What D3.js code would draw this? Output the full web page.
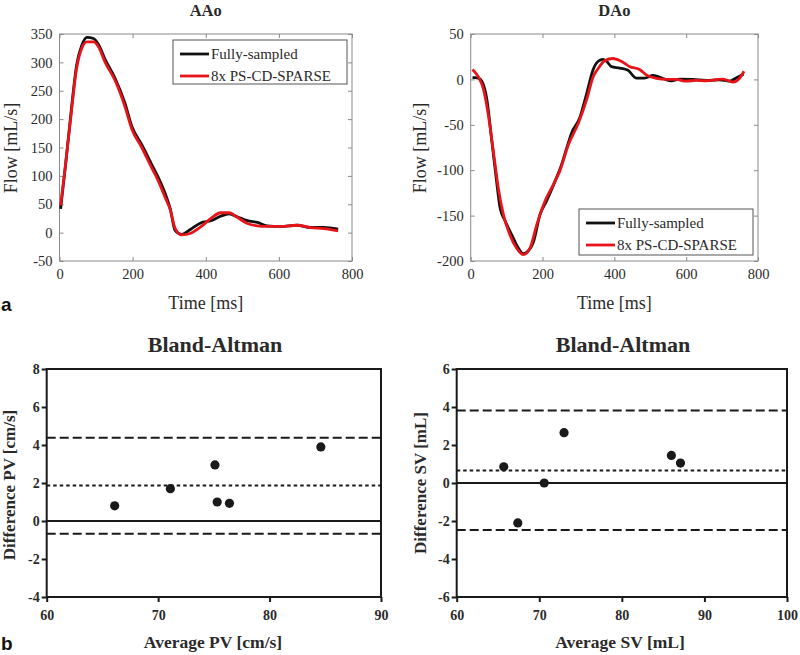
<!DOCTYPE html>
<html><head><meta charset="utf-8">
<script src="https://cdn.jsdelivr.net/npm/d3@7"></script>
<style>
body{margin:0;background:#fff;}
svg{display:block;}
</style></head>
<body>
<svg id="c" width="800" height="655"></svg>
<script>
// ---------- DATA ----------
const aaoTime   = [3, 15, 29, 47, 61, 75, 93, 107, 125, 152, 179, 198, 225, 253, 271, 289, 303, 316, 334, 359, 386, 414, 441, 464, 486, 514, 541, 568, 605, 650, 686, 723, 762];
const aaoFull   = [42, 110, 196, 296, 330, 344, 342, 331, 305, 272, 228, 187, 155, 119, 96, 69, 42, 4, -3, 6, 17, 21, 29, 33, 28, 21, 18, 12, 11, 13, 9, 9, 6];
const aaoSparse = [48, 112, 192, 290, 325, 336, 336, 327, 300, 268, 222, 182, 150, 113, 90, 62, 40, 8, -4, -1, 10, 25, 35, 35, 27, 16, 12, 11, 11, 13, 9, 7, 3];

const daoTimeFull   = [5, 12, 21, 31, 45, 58, 72, 82, 96, 114, 133, 146, 160, 174, 193, 211, 235, 253, 267, 281, 304, 322, 341, 355, 368, 378, 392, 415, 438, 461, 484, 508, 535, 559, 582, 619, 656, 693, 721, 739, 760];
const daoFull       = [2, 2, 1.5, -2, -22, -65, -112, -142, -156, -171, -186, -192, -189, -180, -149, -134, -112, -94, -76, -59, -42, -17, 11, 20, 22, 20, 14, 12.5, 10, 1.5, 1.5, 4.4, 1, -1.5, 0.4, 0, -1, -0.4, -2, 1.5, 6];
const daoTimeSparse = [5, 21, 35, 49, 63, 77, 91, 109, 128, 146, 165, 184, 207, 230, 248, 272, 300, 323, 341, 355, 373, 396, 419, 443, 470, 489, 517, 545, 572, 600, 628, 656, 684, 702, 730, 749, 761];
const daoSparse     = [11, 3, -10, -39, -79, -120, -149, -171, -186, -193, -186, -160, -134, -116, -101, -72, -48, -22, 3, 12, 20.5, 23, 20, 14, 11, 5, 1, 0, 0, -2, -1, -1.5, -0.4, 0.4, -3, 1.5, 9];

const seriesNames = ["Fully-sampled", "8x PS-CD-SPARSE"];

const timeTicks = [0, 200, 400, 600, 800];
const aaoTicks  = [-50, 0, 50, 100, 150, 200, 250, 300, 350];
const daoTicks  = [-200, -150, -100, -50, 0, 50];

const pvAvg  = [66.1, 71.1, 75.1, 75.3, 76.4, 84.6];
const pvDiff = [0.8, 1.7, 2.95, 1.0, 0.93, 3.9];
const pvBias = 1.87, pvUpper = 4.38, pvLower = -0.67;
const pvXTicks = [60, 70, 80, 90];
const pvYTicks = [-4, -2, 0, 2, 4, 6, 8];

const svAvg  = [65.7, 67.4, 70.6, 73.0, 86.0, 87.1];
const svDiff = [0.85, -2.1, 0.0, 2.65, 1.45, 1.05];
const svBias = 0.66, svUpper = 3.82, svLower = -2.48;
const svXTicks = [60, 70, 80, 90, 100];
const svYTicks = [-6, -4, -2, 0, 2, 4, 6];

// ---------- DRAW ----------
const svg = d3.select("#c");
const serif = "'Liberation Serif','Times New Roman',serif";
const sans = "'Liberation Sans',Arial,sans-serif";
const BLACK = "#111", RED = "#e8141a", FRAME = "#8a8a8a", TXT = "#2a2a2a";
const plainFmt = d => String(d);

function flowChart(o) {
  const x = d3.scaleLinear().domain([0, 800]).range([o.x0, o.x1]);
  const y = d3.scaleLinear().domain(o.yDomain).range([o.y1, o.y0]);
  const g = svg.append("g");
  g.append("rect").attr("x", o.x0).attr("y", o.y0).attr("width", o.x1 - o.x0).attr("height", o.y1 - o.y0)
    .attr("fill", "none").attr("stroke", FRAME).attr("stroke-width", 1);
  const ax = [
    [d3.axisBottom(x).tickValues(timeTicks).tickSize(-4).tickPadding(8).tickFormat(plainFmt), `translate(0,${o.y1})`],
    [d3.axisTop(x).tickValues(timeTicks).tickSize(-4).tickFormat(""), `translate(0,${o.y0})`],
    [d3.axisLeft(y).tickValues(o.yTicks).tickSize(-4).tickPadding(7).tickFormat(plainFmt), `translate(${o.x0},0)`],
    [d3.axisRight(y).tickValues(o.yTicks).tickSize(-4).tickFormat(""), `translate(${o.x1},0)`]
  ];
  ax.forEach(([a, t]) => {
    const ag = g.append("g").attr("transform", t).call(a);
    ag.select(".domain").remove();
    ag.selectAll("line").attr("stroke", FRAME);
    ag.selectAll("text").attr("font-family", serif).attr("font-size", 14.5).attr("fill", TXT);
  });
  const line = d3.line().x(d => x(d[0])).y(d => y(d[1])).curve(d3.curveMonotoneX);
  const full = o.tFull.map((t, i) => [t, o.vFull[i]]);
  const sp = o.tSparse.map((t, i) => [t, o.vSparse[i]]);
  g.append("path").datum(full).attr("d", line).attr("fill", "none").attr("stroke", BLACK).attr("stroke-width", 2.8).attr("stroke-linejoin", "round");
  g.append("path").datum(sp).attr("d", line).attr("fill", "none").attr("stroke", RED).attr("stroke-width", 2.8).attr("stroke-linejoin", "round");
  g.append("text").attr("x", (o.x0 + o.x1) / 2).attr("y", 16).attr("text-anchor", "middle")
    .attr("font-family", serif).attr("font-weight", "bold").attr("font-size", 16.5).attr("fill", TXT).text(o.title);
  g.append("text").attr("x", (o.x0 + o.x1) / 2).attr("y", 309).attr("text-anchor", "middle")
    .attr("font-family", serif).attr("font-size", 18).attr("fill", TXT).text("Time [ms]");
  g.append("text").attr("transform", `translate(${o.yLabX},148) rotate(-90)`).attr("text-anchor", "middle")
    .attr("font-family", serif).attr("font-size", 18).attr("fill", TXT).text("Flow [mL/s]");
  const L = o.legend;
  g.append("rect").attr("x", L.x).attr("y", L.y).attr("width", L.w).attr("height", L.h)
    .attr("fill", "#fff").attr("stroke", "#555").attr("stroke-width", 1);
  [BLACK, RED].forEach((c, i) => {
    const yy = L.y + 14 + i * 22;
    g.append("line").attr("x1", L.x + 7).attr("x2", L.x + 36).attr("y1", yy).attr("y2", yy)
      .attr("stroke", c).attr("stroke-width", 2.8);
    g.append("text").attr("x", L.x + 38).attr("y", yy + 5).attr("font-family", serif).attr("font-size", 15)
      .attr("fill", TXT).text(seriesNames[i]);
  });
}

flowChart({x0: 59.5, x1: 352, y0: 34, y1: 261, yDomain: [-50, 350], yTicks: aaoTicks,
  tFull: aaoTime, vFull: aaoFull, tSparse: aaoTime, vSparse: aaoSparse, title: "AAo", yLabX: 17,
  legend: {x: 173, y: 40, w: 174, h: 44}});
flowChart({x0: 470.7, x1: 758, y0: 34, y1: 261, yDomain: [-200, 50], yTicks: daoTicks,
  tFull: daoTimeFull, vFull: daoFull, tSparse: daoTimeSparse, vSparse: daoSparse, title: "DAo", yLabX: 426,
  legend: {x: 579, y: 209, w: 174, h: 46}});

function baChart(o) {
  const x = d3.scaleLinear().domain(o.xDomain).range([o.x0, o.x1]);
  const y = d3.scaleLinear().domain(o.yDomain).range([o.y1, o.y0]);
  const g = svg.append("g");
  const hl = (v, dash, w) => g.append("line").attr("x1", o.x0).attr("x2", o.x1).attr("y1", y(v)).attr("y2", y(v))
    .attr("stroke", "#1a1a1a").attr("stroke-width", w).attr("stroke-dasharray", dash);
  hl(0, null, 2);
  hl(o.upper, "9,4", 2);
  hl(o.lower, "9,4", 2);
  hl(o.bias, "3.5,3", 2);
  g.selectAll("circle.pt").data(o.avg.map((a, i) => [a, o.diff[i]])).enter().append("circle")
    .attr("cx", d => x(d[0])).attr("cy", d => y(d[1])).attr("r", 4.6).attr("fill", "#1a1a1a");
  g.append("rect").attr("x", o.x0).attr("y", o.y0).attr("width", o.x1 - o.x0).attr("height", o.y1 - o.y0)
    .attr("fill", "none").attr("stroke", "#1a1a1a").attr("stroke-width", 2);
  const xa = g.append("g").attr("transform", `translate(0,${o.y1})`)
    .call(d3.axisBottom(x).tickValues(o.xTicks).tickSize(5).tickPadding(8).tickFormat(plainFmt));
  const ya = g.append("g").attr("transform", `translate(${o.x0},0)`)
    .call(d3.axisLeft(y).tickValues(o.yTicks).tickSize(5).tickPadding(2).tickFormat(plainFmt));
  [xa, ya].forEach(a => {
    a.select(".domain").remove();
    a.selectAll("line").attr("stroke", "#1a1a1a").attr("stroke-width", 2);
    a.selectAll("text").attr("font-family", serif).attr("font-weight", "bold").attr("font-size", 14).attr("fill", TXT);
  });
  g.append("text").attr("x", o.titleX).attr("y", 352).attr("text-anchor", "middle")
    .attr("font-family", serif).attr("font-weight", "bold").attr("font-size", 22).attr("fill", TXT).text("Bland-Altman");
  g.append("text").attr("x", o.xLabX).attr("y", 648).attr("text-anchor", "middle")
    .attr("font-family", serif).attr("font-weight", "bold").attr("font-size", 17.5).attr("fill", TXT).text(o.xLabel);
  g.append("text").attr("transform", `translate(${o.yLabX},${o.yLabY}) rotate(-90)`).attr("text-anchor", "middle")
    .attr("font-family", serif).attr("font-weight", "bold").attr("font-size", 17).attr("fill", TXT).text(o.yLabel);
}

baChart({x0: 46.7, x1: 381, y0: 369, y1: 597, xDomain: [60, 90], yDomain: [-4, 8],
  xTicks: pvXTicks, yTicks: pvYTicks, avg: pvAvg, diff: pvDiff, bias: pvBias, upper: pvUpper, lower: pvLower,
  titleX: 215, xLabX: 213, xLabel: "Average PV [cm/s]", yLabX: 15, yLabY: 485, yLabel: "Difference PV [cm/s]"});
baChart({x0: 456.7, x1: 787, y0: 369, y1: 597, xDomain: [60, 100], yDomain: [-6, 6],
  xTicks: svXTicks, yTicks: svYTicks, avg: svAvg, diff: svDiff, bias: svBias, upper: svUpper, lower: svLower,
  titleX: 623, xLabX: 620, xLabel: "Average SV [mL]", yLabX: 426, yLabY: 483, yLabel: "Difference SV [mL]"});

svg.append("text").attr("x", 1).attr("y", 311).attr("font-family", sans).attr("font-weight", "bold")
  .attr("font-size", 19).attr("fill", "#111").text("a");
svg.append("text").attr("x", 1).attr("y", 650).attr("font-family", sans).attr("font-weight", "bold")
  .attr("font-size", 19).attr("fill", "#111").text("b");
</script>
</body></html>
